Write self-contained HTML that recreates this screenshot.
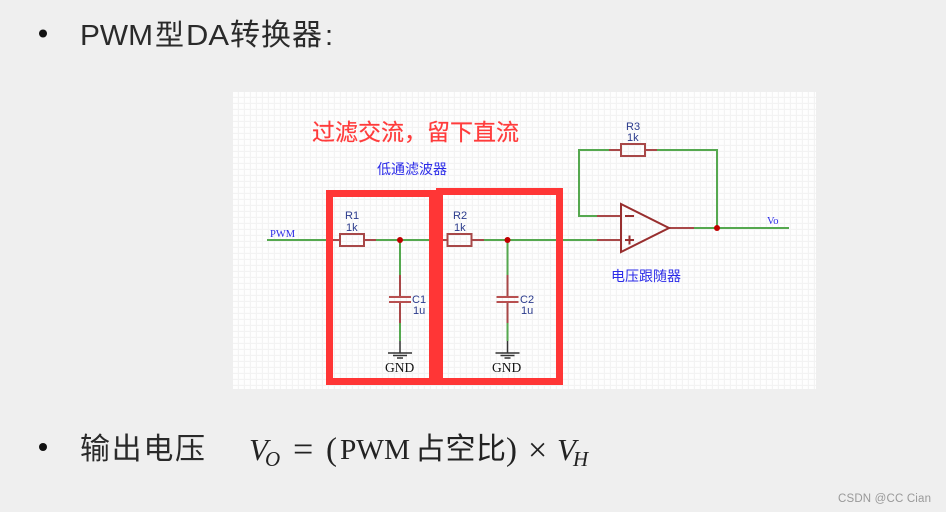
<!DOCTYPE html>
<html><head><meta charset="utf-8"><style>
html,body{margin:0;padding:0;background:#efefef;width:946px;height:512px;overflow:hidden}
svg{display:block}
.cjk{font-family:"Liberation Sans","Noto Sans CJK SC",sans-serif}
.ser{font-family:"Liberation Serif","Noto Serif CJK SC",serif}
</style></head><body>
<svg width="946" height="512" viewBox="0 0 946 512" xmlns="http://www.w3.org/2000/svg">
<defs><pattern id="g" x="233" y="92" width="6" height="6" patternUnits="userSpaceOnUse"><rect width="6" height="6" fill="#fefefe"/><path d="M5.500 0V6M0 5.500H6" stroke="#f3f3f3" stroke-width="1.200"/></pattern></defs>
<rect width="946" height="512" fill="#efefef"/>
<rect x="233" y="92" width="583" height="297" fill="url(#g)"/>

<circle cx="43" cy="33.500" r="4" fill="#111"/>
<g class="cjk" fill="#2a2a2a">
<text x="80" y="45" font-size="29" textLength="73" lengthAdjust="spacingAndGlyphs">PWM</text>
<text x="155" y="45" font-size="29">型</text>
<text x="186" y="45" font-size="29" textLength="43" lengthAdjust="spacingAndGlyphs">DA</text>
<text x="230" y="45" font-size="30" textLength="92">转换器</text>
<text x="325" y="45" font-size="29">:</text>
</g>

<circle cx="43" cy="447" r="4" fill="#111"/>
<text class="cjk" x="80" y="459" font-size="30" fill="#2a2a2a" textLength="125">输出电压</text>
<g class="ser" fill="#222">
<text x="249" y="460" font-size="31" font-style="italic">V</text>
<text x="265" y="466" font-size="21" font-style="italic">O</text>
<text x="293" y="461" font-size="36">=</text>
<text x="326" y="460" font-size="33">(</text>
<text x="340" y="459" font-size="28" textLength="70" lengthAdjust="spacingAndGlyphs">PWM</text>
<text x="415" y="459" font-size="30" textLength="91" class="cjk">占空比</text>
<text x="506" y="460" font-size="33">)</text>
<text x="528" y="461" font-size="34">×</text>
<text x="557" y="460" font-size="31" font-style="italic">V</text>
<text x="573" y="466" font-size="21" font-style="italic">H</text>
</g>

<text class="cjk" x="312" y="140" font-size="23" fill="#ff3b3b" stroke="#ff3b3b" stroke-width="0.200">过滤交流&#xFF0C;留下直流</text>
<text class="cjk" x="377" y="174" font-size="14" fill="#2a2ae8">低通滤波器</text>
<text class="cjk" x="611" y="281" font-size="14" fill="#2a2ae8">电压跟随器</text>

<g fill="none" stroke-width="2">
<path d="M267 240H330M376 240H438M484 240H597M400 240V275M507.500 240V275M400 323V341M507.500 323V341M609 150H579V216H597M657 150H717V228M694 228H789" stroke="#55a84f"/>
<path d="M330 240H340M364 240H376M438 240H447M472 240H484M597 216H621M597 240H621M609 150H621M645 150H657M669 228H694M400 275V297M400 302V323M507.500 275V297M507.500 302V323" stroke="#a84848"/>
<rect x="340" y="234" width="24" height="12" stroke="#a84848"/>
<rect x="447.500" y="234" width="24" height="12" stroke="#a84848"/>
<rect x="621" y="144" width="24" height="12" stroke="#a84848"/>
<path d="M389 297H411M389 302H411M496.500 297H518.500M496.500 302H518.500" stroke="#b85050"/>
<path d="M621 204L669 228L621 252Z" stroke="#982e2e"/>
<path d="M625 216H634M625 240H634M629.500 235.500V244.500" stroke="#982e2e"/>
<path d="M400 341V353M388 353H412M393 355.500H407M397 358H403M507.500 341V353M495.500 353H519.500M500.500 355.500H514.500M504.500 358H510.500" stroke="#333" stroke-width="1.500"/>
</g>
<g fill="#c00000">
<circle cx="400" cy="240" r="3"/><circle cx="507.500" cy="240" r="3"/><circle cx="717" cy="228" r="3"/>
</g>

<g font-family="Liberation Sans,sans-serif" font-size="11" fill="#2a3a8c">
<text x="345" y="219">R1</text><text x="346" y="231">1k</text>
<text x="453" y="219">R2</text><text x="454" y="231">1k</text>
<text x="626" y="130">R3</text><text x="627" y="141">1k</text>
<text x="412" y="303">C1</text><text x="413" y="314">1u</text>
<text x="520" y="303">C2</text><text x="521" y="314">1u</text>
</g>
<g font-family="Liberation Serif,serif">
<text x="270" y="237" font-size="10.500" fill="#2a2ae8">PWM</text>
<text x="767" y="224" font-size="10.500" fill="#2a2ae8">Vo</text>
<text x="385" y="372" font-size="13.500" fill="#111">GND</text>
<text x="492" y="372" font-size="13.500" fill="#111">GND</text>
</g>

<rect x="329.500" y="193.500" width="103" height="188" fill="none" stroke="#ff3636" stroke-width="7"/>
<rect x="439.500" y="191.500" width="120" height="190" fill="none" stroke="#ff3636" stroke-width="7"/>

<text x="838" y="502" font-family="Liberation Sans,sans-serif" font-size="11.500" fill="#999" textLength="93">CSDN @CC Cian</text>
</svg>
</body></html>
